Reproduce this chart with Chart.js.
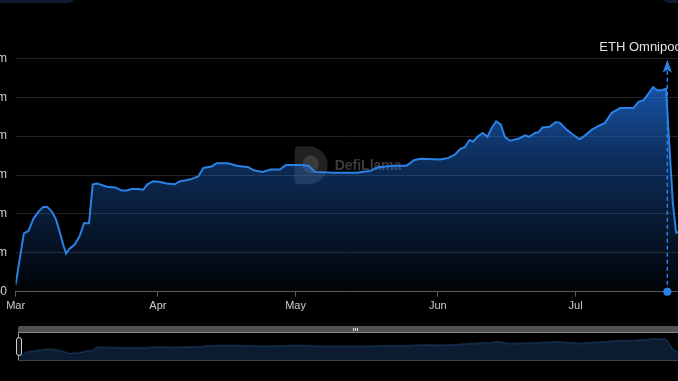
<!DOCTYPE html>
<html>
<head>
<meta charset="utf-8">
<script src="https://cdn.jsdelivr.net/npm/chart.js@4.4.0/dist/chart.umd.min.js"></script>
<style>
  html, body { margin: 0; padding: 0; background: #000; width: 678px; height: 381px; overflow: hidden; font-family: "Liberation Sans", Arial, sans-serif; }
  #main { position: absolute; left: -45px; top: 0; width: 745px; height: 320px; }
  #mini { position: absolute; left: 19px; top: 333px; width: 667px; height: 27.5px; }
  .tab { position: absolute; top: -12px; height: 15px; background: #0f1c2e; border-radius: 7px; }
  #bar { position: absolute; left: 18px; top: 326px; width: 700px; height: 7px; background: #515151; border-bottom: 1px solid #8a8a8a; border-top-left-radius: 2px; box-sizing: border-box; }
  #grip { position: absolute; left: 353px; top: 328px; width: 5px; height: 3px; background: repeating-linear-gradient(90deg, #ddd 0 1px, transparent 1px 2px); }
  #edge { position: absolute; left: 18px; top: 333px; width: 1px; height: 28px; background: #9a9a9a; }
  #base { position: absolute; left: 18px; top: 359.5px; width: 700px; height: 1.5px; background: #3d424c; }
  #handle { position: absolute; left: 16px; top: 337px; width: 6px; height: 19px; border: 1px solid #d0d0d0; border-radius: 3px; background: #141414; box-sizing: border-box; }
</style>
</head>
<body>
<div class="tab" style="left:-8px;width:83px;"></div>
<div class="tab" style="left:662px;width:40px;"></div>
<div id="main"><canvas id="c"></canvas></div>
<div id="bar"></div>
<div id="grip"></div>
<div id="mini"><canvas id="m"></canvas></div>
<div id="edge"></div>
<div id="base"></div>
<div id="handle"></div>
<script>
// Days since 1 March (x) and TVL in $m (y)
const dayOffset = [0,1.8,2.8,3.9,5,6,6.9,7.9,8.8,9.7,10.4,11,11.7,12.9,14,14.9,16,16.8,17.8,19.9,21.7,23.1,24.2,25.3,26.7,27.8,28.7,30,31.5,32.9,34.7,35.8,36.9,38.4,39.8,40.9,42.7,43.8,46.3,48.2,50.7,51.9,53.8,55.6,57.6,58.9,60.2,62,63.8,65.2,69.2,74.3,77.2,79,82.3,85.2,86.8,88.1,92.5,94.3,95.7,96.8,97.9,98.9,99.7,100.8,101.8,102.8,103.7,104.7,105.7,106.6,107.7,109,109.7,111,111.9,113.2,113.9,114.8,116.3,117.7,118.6,120.1,121.2,122.8,123.7,125.5,127,128.4,129.9,131.7,134.6,135.7,136.8,137.8,138.9,139.8,140.8,141.7,143.2,143.9,146];
const tvl = [0.9,7.5,7.8,9.4,10.3,10.9,10.9,10.3,9.3,7.5,6.0,4.9,5.5,6.1,7.2,8.8,8.8,13.8,13.9,13.5,13.4,13.0,13.0,13.2,13.2,13.1,13.8,14.2,14.1,13.9,13.8,14.2,14.3,14.5,14.8,15.9,16.1,16.5,16.5,16.2,16.0,15.6,15.4,15.7,15.7,16.3,16.3,16.3,16.2,15.4,15.3,15.3,15.5,16.0,16.2,16.2,16.9,17.1,17.0,17.2,17.6,18.3,18.6,19.5,19.3,20.0,20.4,19.9,21.0,21.9,21.5,19.9,19.4,19.6,19.7,20.1,19.9,20.4,20.5,21.1,21.2,21.8,21.7,20.8,20.3,19.6,19.9,20.8,21.3,21.7,23.0,23.6,23.6,24.4,24.6,25.4,26.3,25.9,25.9,26.1,11.4,7.6,7.6];
const monthTicks = [0,31,61,92,122];
const monthLabels = ['Mar','Apr','May','Jun','Jul'];
const yTicks = [0,5,10,15,20,25,30];
const xRange = [0,146];
const miniYRange = [-6,34];
const eventDay = 142;
const eventLabel = 'ETH Omnipool';

const points = dayOffset.map((d,i) => ({x: d, y: tvl[i]}));
const LINE = '#2a82e6';

const watermark = {
  id: 'watermark',
  beforeDatasetsDraw(chart) {
    const ctx = chart.ctx, ca = chart.chartArea;
    const cx = (ca.left + ca.right) / 2;
    const cy = ca.top + 107;
    ctx.save();
    ctx.fillStyle = 'rgba(150,150,150,0.22)';
    const lx = cx - 56, ly = cy - 19;
    ctx.beginPath();
    ctx.moveTo(lx + 4, ly);
    ctx.lineTo(lx + 14, ly);
    ctx.arc(lx + 14, ly + 19, 19, -Math.PI/2, Math.PI/2);
    ctx.lineTo(lx + 4, ly + 38);
    ctx.quadraticCurveTo(lx, ly + 38, lx, ly + 34);
    ctx.lineTo(lx, ly + 4);
    ctx.quadraticCurveTo(lx, ly, lx + 4, ly);
    ctx.fill();
    ctx.fillStyle = 'rgba(110,110,110,0.35)';
    ctx.beginPath();
    ctx.ellipse(lx + 16, ly + 18, 8, 9, 0, 0, Math.PI * 2);
    ctx.fill();
    ctx.fillStyle = 'rgba(170,170,170,0.35)';
    ctx.font = 'bold 14px "Liberation Sans", Arial, sans-serif';
    ctx.textBaseline = 'middle';
    ctx.textAlign = 'left';
    ctx.fillText('DefiLlama', cx - 16, cy + 1);
    ctx.restore();
  }
};

const eventMark = {
  id: 'eventMark',
  afterDatasetsDraw(chart) {
    const ctx = chart.ctx, ca = chart.chartArea;
    const x = chart.scales.x.getPixelForValue(eventDay);
    const yb = chart.scales.y.getPixelForValue(0);
    const tip = ca.top + 1.5;
    ctx.save();
    ctx.strokeStyle = LINE;
    ctx.lineWidth = 1.5;
    ctx.setLineDash([4, 3]);
    ctx.beginPath();
    ctx.moveTo(x, yb);
    ctx.lineTo(x, tip + 8);
    ctx.stroke();
    ctx.setLineDash([]);
    ctx.fillStyle = LINE;
    ctx.beginPath();
    ctx.moveTo(x, tip);
    ctx.lineTo(x + 4.7, tip + 13);
    ctx.lineTo(x, tip + 10);
    ctx.lineTo(x - 4.7, tip + 13);
    ctx.closePath();
    ctx.fill();
    ctx.beginPath();
    ctx.arc(x, yb, 4, 0, Math.PI * 2);
    ctx.fill();
    ctx.fillStyle = '#e2e2e2';
    ctx.font = '13px "Liberation Sans", Arial, sans-serif';
    ctx.textAlign = 'left';
    ctx.textBaseline = 'alphabetic';
    ctx.fillText(eventLabel, x - 68, ca.top - 7.3);
    ctx.restore();
  }
};

new Chart(document.getElementById('c'), {
  type: 'line',
  data: { datasets: [{
    data: points,
    borderColor: LINE,
    borderWidth: 2,
    pointRadius: 0,
    tension: 0,
    fill: 'origin',
    backgroundColor: (c) => {
      const ca = c.chart.chartArea;
      if (!ca) return 'rgba(33,114,229,0.4)';
      const g = c.chart.ctx.createLinearGradient(0, ca.top, 0, ca.bottom);
      g.addColorStop(0, 'rgba(33,114,229,0.85)');
      g.addColorStop(0.45, 'rgba(33,114,229,0.38)');
      g.addColorStop(1, 'rgba(33,114,229,0.03)');
      return g;
    }
  }]},
  options: {
    responsive: true,
    maintainAspectRatio: false,
    animation: false,
    events: [],
    layout: { padding: { left: 0, top: 58.3, right: 14.3, bottom: 0 } },
    plugins: { legend: { display: false }, tooltip: { enabled: false } },
    scales: {
      x: {
        type: 'linear', min: xRange[0], max: xRange[1],
        afterBuildTicks: (s) => { s.ticks = monthTicks.map(v => ({ value: v })); },
        afterFit: (s) => { s.height = 28.3; },
        ticks: {
          autoSkip: false, maxRotation: 0, padding: 3, color: '#cfcfcf',
          font: { family: '"Liberation Sans", Arial, sans-serif', size: 11 },
          callback: (v) => monthLabels[monthTicks.indexOf(v)] ?? ''
        },
        grid: { drawOnChartArea: false, drawTicks: true, tickLength: 5, color: '#5c5c5c' },
        border: { display: true, color: '#5c5c5c', width: 1 }
      },
      y: {
        min: 0, max: 30,
        afterBuildTicks: (s) => { s.ticks = yTicks.map(v => ({ value: v })); },
        afterFit: (s) => { s.width = 60.6; },
        ticks: {
          padding: 8.6, color: '#cfcfcf',
          font: { family: '"Liberation Sans", Arial, sans-serif', size: 12 },
          callback: (v) => v === 0 ? '$0' : '$' + v + 'm'
        },
        grid: { drawTicks: false, color: '#222222', lineWidth: 1 },
        border: { display: false }
      }
    }
  },
  plugins: [watermark, eventMark]
});

new Chart(document.getElementById('m'), {
  type: 'line',
  data: { datasets: [{
    data: points,
    borderColor: '#1f4370',
    borderWidth: 1,
    pointRadius: 0,
    tension: 0,
    fill: 'start',
    backgroundColor: '#0c1b30'
  }]},
  options: {
    responsive: true,
    maintainAspectRatio: false,
    animation: false,
    events: [],
    layout: { padding: 0 },
    plugins: { legend: { display: false }, tooltip: { enabled: false } },
    scales: {
      x: { type: 'linear', min: xRange[0], max: xRange[1], display: false },
      y: { min: miniYRange[0], max: miniYRange[1], display: false }
    }
  }
});
</script>
</body>
</html>
